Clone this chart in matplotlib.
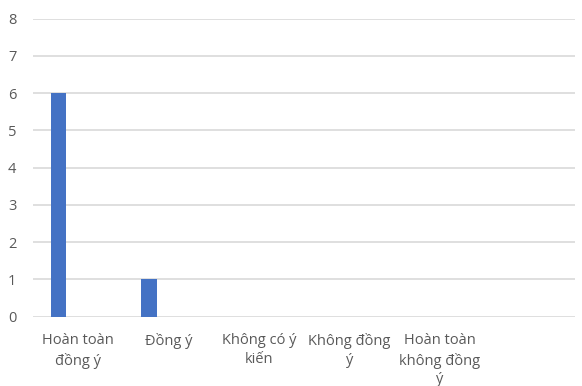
import matplotlib
matplotlib.use("Agg")
import matplotlib.pyplot as plt

categories = ["Hoàn toàn\nđồng ý", "Đồng ý", "Không có ý\nkiến", "Không đồng\ný",
              "Hoàn toàn\nkhông đồng\ný", ""]
counts = [6, 1, 0, 0, 0]
yticks = [0, 1, 2, 3, 4, 5, 6, 7, 8]

plt.rcParams['font.family'] = ['Open Sans', 'DejaVu Sans']

fig = plt.figure(figsize=(5.82, 3.86), dpi=100)
ax = fig.add_axes([0.0567, 0.1795, 0.9313, 0.7721])

# clustered bar layout: first series sits left of the category centre
xs = list(range(len(categories)))
ax.bar([x - 0.218 for x in xs[:len(counts)]], counts, width=0.174,
       color="#4472c4", zorder=3)

ax.set_xlim(-0.5, len(categories) - 0.5)
ax.set_ylim(0, 8)
ax.set_yticks(yticks)
ax.set_xticks(xs)
ax.set_xticklabels(categories, fontsize=10.5, color="#595959", linespacing=1.35)
ax.tick_params(axis="y", labelsize=10.5, labelcolor="#595959", length=0, pad=12)
ax.tick_params(axis="x", length=0, pad=12)

ax.grid(axis="y", color="#d9d9d9", linewidth=1.2, zorder=0)
for s in ax.spines.values():
    s.set_visible(False)

fig.savefig("out.png", dpi=100)
